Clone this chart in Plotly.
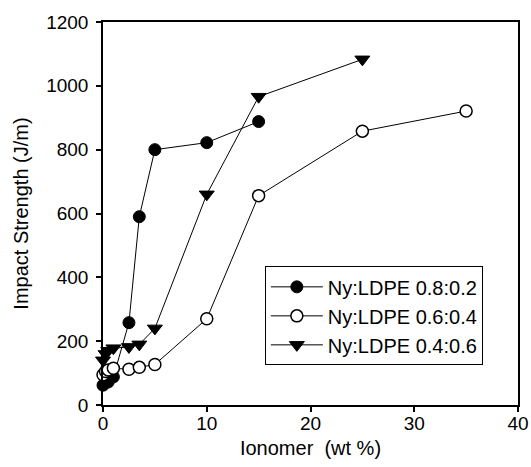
import plotly.graph_objects as go

# Ionomer content (wt %) and notched impact strength (J/m) for each blend ratio
x_08 = [0, 0.5, 1, 2.5, 3.5, 5, 10, 15]
y_08 = [62, 72, 88, 258, 590, 800, 822, 888]

x_06 = [0, 0.25, 0.5, 1, 2.5, 3.5, 5, 10, 15, 25, 35]
y_06 = [95, 105, 110, 115, 112, 118, 127, 270, 656, 858, 921]

x_04 = [0, 0.25, 0.5, 1, 2.5, 3.5, 5, 10, 15, 25]
y_04 = [140, 160, 170, 178, 182, 190, 240, 660, 966, 1083]

names = ["Ny:LDPE 0.8:0.2", "Ny:LDPE 0.6:0.4", "Ny:LDPE 0.4:0.6"]

x_ticks = [0, 10, 20, 30, 40]
y_ticks = [0, 200, 400, 600, 800, 1000, 1200]

FONT = "Liberation Sans, Arial, sans-serif"

fig = go.Figure()

series = [
    (x_08, y_08, names[0], dict(symbol="circle", size=12, color="black",
                               line=dict(color="black", width=1))),
    (x_06, y_06, names[1], dict(symbol="circle", size=12, color="white",
                               line=dict(color="black", width=1.5))),
    (x_04, y_04, names[2], dict(symbol="triangle-down", size=13, color="black",
                               line=dict(color="black", width=1))),
]

for xs, ys, nm, mk in series:
    fig.add_trace(go.Scatter(
        x=xs, y=ys, name=nm, mode="lines+markers",
        line=dict(color="black", width=1),
        marker=mk, cliponaxis=False,
    ))

axis_common = dict(
    showgrid=False, zeroline=False, automargin=False,
    showline=True, linecolor="black", linewidth=1.5, mirror=True,
    ticks="outside", ticklen=5, tickwidth=1.5, tickcolor="black",
    tickfont=dict(family=FONT, size=19, color="black"),
)

fig.update_xaxes(
    range=[0, 40], tickvals=x_ticks, ticklabelstandoff=-5,
    title=dict(text="Ionomer\u00a0\u00a0(wt %)", font=dict(family=FONT, size=20, color="black"),
               standoff=8),
    **axis_common,
)
fig.update_yaxes(
    range=[0, 1200], tickvals=y_ticks, ticklabelstandoff=4,
    title=dict(text="Impact Strength (J/m)", font=dict(family=FONT, size=20, color="black"),
               standoff=12),
    **axis_common,
)

fig.update_layout(
    width=531, height=467,
    margin=dict(l=103, r=13, t=22, b=62),
    paper_bgcolor="white", plot_bgcolor="white",
    showlegend=True,
    legend=dict(
        x=0.39, y=0.362, xanchor="left", yanchor="top",
        bgcolor="white", bordercolor="black", borderwidth=1,
        font=dict(family=FONT, size=20, color="black"),
        tracegroupgap=0, itemwidth=52,
    ),
)

fig.write_html("out.html")
